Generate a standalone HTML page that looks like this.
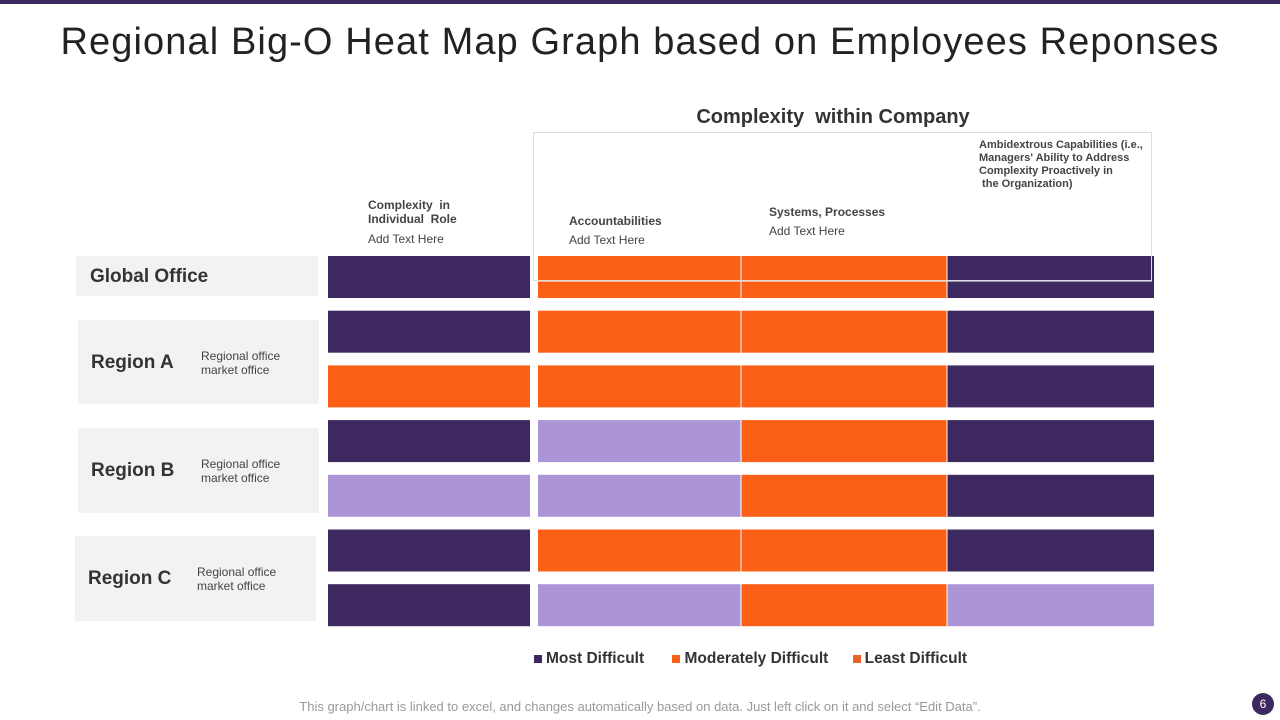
<!DOCTYPE html>
<html><head><meta charset="utf-8"><style>
body{margin:0;width:1280px;height:720px;position:relative;background:#fff;font-family:"Liberation Sans",sans-serif;overflow:hidden}
.a{position:absolute}
.lbl{background:#f2f2f2}
.rn{font-weight:bold;font-size:19px;color:#333}
.sm{font-size:12px;color:#444;line-height:14px}
.hd{font-size:12px;color:#444;font-weight:bold;line-height:14px}
.hs{font-size:12px;color:#444;font-weight:bold;line-height:13px;font-size:11px}
.at{font-size:12px;color:#444}
</style></head><body>
<div class="a" style="left:0;top:0;width:1280px;height:4px;background:#3d2960"></div>
<div class="a" style="left:0;top:21px;width:1280px;text-align:center;font-size:38px;letter-spacing:1.1px;color:#222">Regional Big-O Heat Map Graph based on Employees Reponses</div>
<div class="a" style="left:533px;top:106px;width:600px;text-align:center;font-size:20px;font-weight:bold;color:#333">Complexity &nbsp;within Company</div>
<div class="a" style="left:368px;top:198px"><div class="hd">Complexity &nbsp;in<br>Individual &nbsp;Role</div><div class="at" style="margin-top:6px">Add Text Here</div></div>
<div class="a" style="left:569px;top:214px"><div class="hd">Accountabilities</div><div class="at" style="margin-top:5px">Add Text Here</div></div>
<div class="a" style="left:769px;top:205px"><div class="hd">Systems, Processes</div><div class="at" style="margin-top:5px">Add Text Here</div></div>
<div class="a" style="left:979px;top:139px"><div class="hs">Ambidextrous Capabilities (i.e.,<br>Managers' Ability to Address<br>Complexity Proactively in<br>&nbsp;the Organization)</div></div>

<div class="a lbl" style="left:76px;top:256px;width:242px;height:40px"><span class="a rn" style="left:14px;top:10px">Global Office</span></div>
<div class="a lbl" style="left:78px;top:320px;width:241px;height:84px"><span class="a rn" style="left:13px;top:32px">Region A</span><span class="a sm" style="left:123px;top:29px">Regional office<br>market office</span></div>
<div class="a lbl" style="left:78px;top:428px;width:241px;height:85px"><span class="a rn" style="left:13px;top:32px">Region B</span><span class="a sm" style="left:123px;top:29px">Regional office<br>market office</span></div>
<div class="a lbl" style="left:75px;top:536px;width:241px;height:85px"><span class="a rn" style="left:13px;top:32px">Region C</span><span class="a sm" style="left:122px;top:29px">Regional office<br>market office</span></div>

<svg class="a" style="left:0;top:0" width="1280" height="720" id="hm"></svg>

<div class="a" style="left:534px;top:650px;font-size:15.5px;font-weight:bold;color:#333;white-space:nowrap">
<span><span style="display:inline-block;width:8px;height:8px;background:#3d2960;margin-right:4px"></span>Most Difficult</span>
<span style="margin-left:24px"><span style="display:inline-block;width:8px;height:8px;background:#fc5f16;margin-right:4px"></span>Moderately Difficult</span>
<span style="margin-left:20px"><span style="display:inline-block;width:8px;height:8px;background:#e8622a;margin-right:4px"></span>Least Difficult</span>
</div>
<div class="a" style="left:0;top:699px;width:1280px;text-align:center;font-size:13px;color:#999">This graph/chart is linked to excel, and changes automatically based on data. Just left click on it and select “Edit Data”.</div>
<div class="a" style="left:1252px;top:693px;width:22px;height:22px;border-radius:50%;background:#3d2960;color:#fff;font-size:12px;text-align:center;line-height:22px">6</div>
<script>
const rows=['Global Office','Region A 1','Region A 2','Region B 1','Region B 2','Region C 1','Region C 2'];
const cols=['Individual Role','Accountabilities','Systems, Processes','Ambidextrous Capabilities'];
const values=[[0,1,1,0],[0,1,1,0],[1,1,1,0],[0,2,1,0],[2,2,1,0],[0,1,1,0],[0,2,1,2]];
const colors=['#3d2960','#fc5f16','#ab95d6'];
const colX=[328,538,741,947],colW=[202,203,206,207];
const rowY=r=>256+r*54.7, rowH=42;
const svg=document.getElementById('hm'),NS='http://www.w3.org/2000/svg';
values.forEach((row,r)=>row.forEach((v,c)=>{
 const e=document.createElementNS(NS,'rect');
 
 
 e.setAttribute('x',colX[c]);e.setAttribute('y',rowY(r));
 e.setAttribute('width',colW[c]);e.setAttribute('height',rowH);
 e.setAttribute('fill',colors[v]);svg.appendChild(e);
}));
const sep=document.createElementNS(NS,'path');


sep.setAttribute('d','M741 256V626M947 256V626M538 281H1152');
sep.setAttribute('stroke','#fff');sep.setAttribute('stroke-width','1');svg.appendChild(sep);
const box=document.createElementNS(NS,'rect');


box.setAttribute('x',533.5);box.setAttribute('y',132.5);box.setAttribute('width',618);box.setAttribute('height',148);
box.setAttribute('fill','none');box.setAttribute('stroke','#ddd');svg.appendChild(box);
</script>
</body></html>
